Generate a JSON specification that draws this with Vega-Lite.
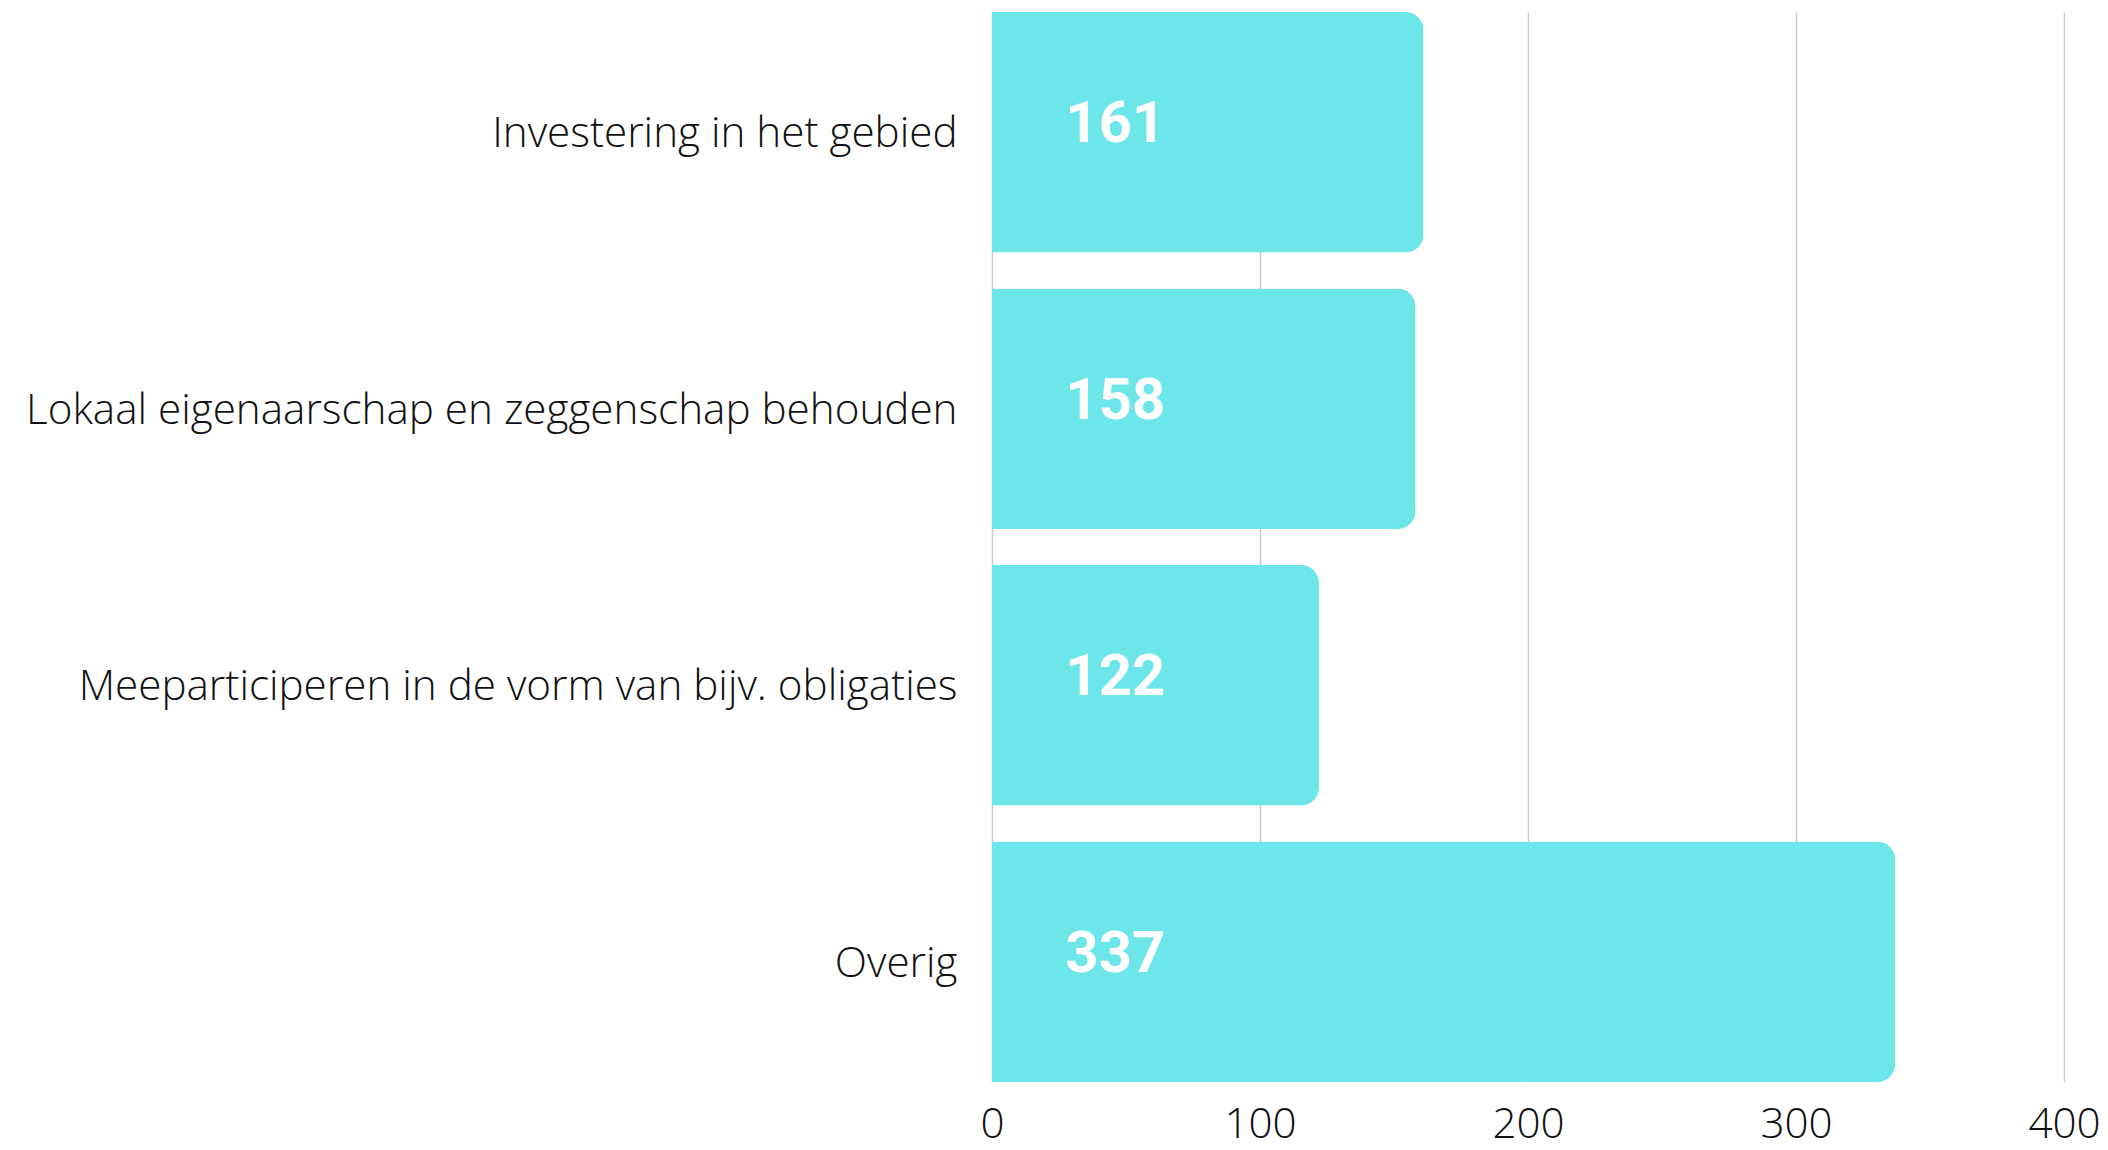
{
  "$schema": "https://vega.github.io/schema/vega-lite/v6.json",
  "autosize": {"type": "none"},
  "width": 1072,
  "height": 1070,
  "padding": {"left": 992, "top": 12, "right": 44, "bottom": 68},
  "background": "#ffffff",
  "data": {
    "values": [
      {"categorie": "Investering in het gebied", "aantal": 161},
      {"categorie": "Lokaal eigenaarschap en zeggenschap behouden", "aantal": 158},
      {"categorie": "Meeparticiperen in de vorm van bijv. obligaties", "aantal": 122},
      {"categorie": "Overig", "aantal": 337}
    ]
  },
  "config": {
    "view": {"stroke": null},
    "font": "Open Sans"
  },
  "encoding": {
    "y": {
      "field": "categorie",
      "type": "nominal",
      "sort": null,
      "title": null,
      "scale": {"paddingInner": 0.13, "paddingOuter": 0},
      "axis": {
        "domain": false,
        "ticks": false,
        "labelFont": "Open Sans",
        "labelFontWeight": 300,
        "labelFontSize": 42.2,
        "labelColor": "#111111",
        "labelPadding": 35,
        "labelLimit": 1000,
        "labelOffset": 2
      }
    }
  },
  "layer": [
    {
      "mark": {"type": "bar", "color": "#6ce6e8", "cornerRadiusEnd": 18},
      "encoding": {
        "x": {
          "field": "aantal",
          "type": "quantitative",
          "title": null,
          "scale": {"domain": [0, 400], "nice": false},
          "axis": {
            "values": [0, 100, 200, 300, 400],
            "domain": false,
            "ticks": false,
            "grid": true,
            "gridColor": "#cccccc",
            "gridWidth": 1.5,
            "labelFont": "Open Sans",
            "labelFontWeight": 300,
            "labelFontSize": 42.2,
            "labelColor": "#111111",
            "labelPadding": 22,
            "labelFlush": false
          }
        }
      }
    },
    {
      "mark": {
        "type": "text",
        "color": "#ffffff",
        "font": "Roboto",
        "fontWeight": "bold",
        "fontSize": 58,
        "align": "center",
        "baseline": "middle",
        "dy": -7
      },
      "encoding": {
        "x": {"datum": 46, "type": "quantitative"},
        "text": {"field": "aantal", "type": "quantitative"}
      }
    }
  ]
}
